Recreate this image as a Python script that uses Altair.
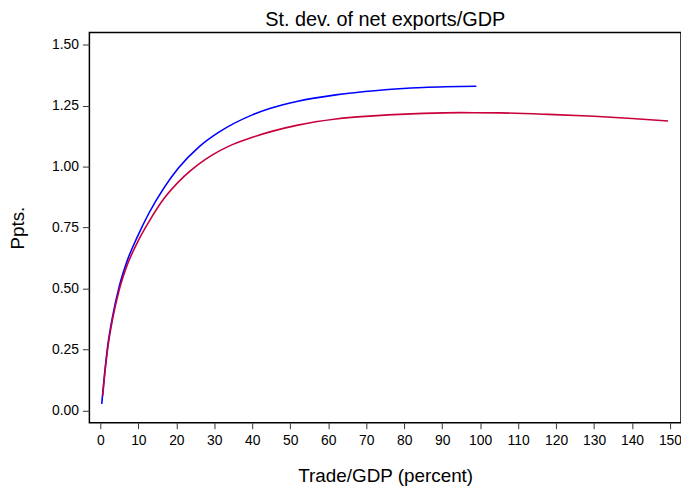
import altair as alt
import pandas as pd

# Blue series (trade/GDP percent, st. dev. ppts)
blue_x = [0.35, 1.05, 1.92, 3.2, 4.96, 7.14, 9.75, 12.8, 16.7, 20.6, 25.9, 31.1, 40.0, 45.0, 52.0, 62.0, 72.9, 85.0, 99.0]
blue_y = [0.028, 0.144, 0.265, 0.385, 0.509, 0.618, 0.713, 0.810, 0.912, 0.995, 1.080, 1.140, 1.212, 1.240, 1.268, 1.294, 1.312, 1.324, 1.329]

# Red series
red_x = [0.6, 1.05, 1.92, 3.2, 4.96, 7.14, 9.75, 12.8, 16.7, 21.9, 25.9, 29.5, 33.7, 40.0, 52.0, 62.0, 72.9, 85.0, 95.0, 105.0, 118.0, 130.0, 140.0, 149.5]
red_y = [0.062, 0.135, 0.255, 0.375, 0.495, 0.600, 0.690, 0.775, 0.868, 0.958, 1.010, 1.048, 1.083, 1.120, 1.170, 1.195, 1.209, 1.218, 1.221, 1.220, 1.214, 1.206, 1.197, 1.187]

x_ticks = list(range(0, 151, 10))
y_ticks = [0.0, 0.25, 0.5, 0.75, 1.0, 1.25, 1.5]

df = pd.concat([
    pd.DataFrame({"x": blue_x, "y": blue_y, "s": "blue"}),
    pd.DataFrame({"x": red_x, "y": red_y, "s": "red"}),
])

FONT = "Liberation Sans"

chart = alt.Chart(df).mark_line(strokeWidth=1.6, interpolate="monotone").encode(
    x=alt.X("x:Q",
            scale=alt.Scale(domain=[-2.9, 152.9], nice=False, zero=False),
            axis=alt.Axis(values=x_ticks, title="Trade/GDP (percent)", grid=False,
                          tickSize=6, labelPadding=5, titlePadding=19, domain=False,
                          labelFontSize=14, titleFontSize=19, titleFontWeight="normal",
                          labelColor="black", titleColor="black", tickColor="#333",
                          labelFont=FONT, titleFont=FONT, labelFlush=False)),
    y=alt.Y("y:Q",
            scale=alt.Scale(domain=[-0.049, 1.549], nice=False, zero=False),
            axis=alt.Axis(values=y_ticks, format=".2f", title="Ppts.", grid=False,
                          tickSize=7, labelPadding=4, titlePadding=24, domain=False,
                          labelFontSize=14, titleFontSize=19, titleFontWeight="normal",
                          labelColor="black", titleColor="black", tickColor="#333",
                          labelFont=FONT, titleFont=FONT, labelFlush=False)),
    color=alt.Color("s:N", scale=alt.Scale(domain=["blue", "red"], range=["#0000FF", "#C8003C"]),
                    legend=None),
    detail="s:N",
).properties(
    width=596,
    height=393,
    title=alt.TitleParams("St. dev. of net exports/GDP", fontSize=20, font=FONT,
                          fontWeight="normal", anchor="middle", offset=3,
                          color="black"),
    autosize=alt.AutoSizeParams(type="none"),
    padding={"left": 82, "top": 23, "right": 0, "bottom": 63},
).configure_view(stroke="black", strokeWidth=1.5)

chart.save("out.html", embed_options={"renderer": "svg", "actions": False})
